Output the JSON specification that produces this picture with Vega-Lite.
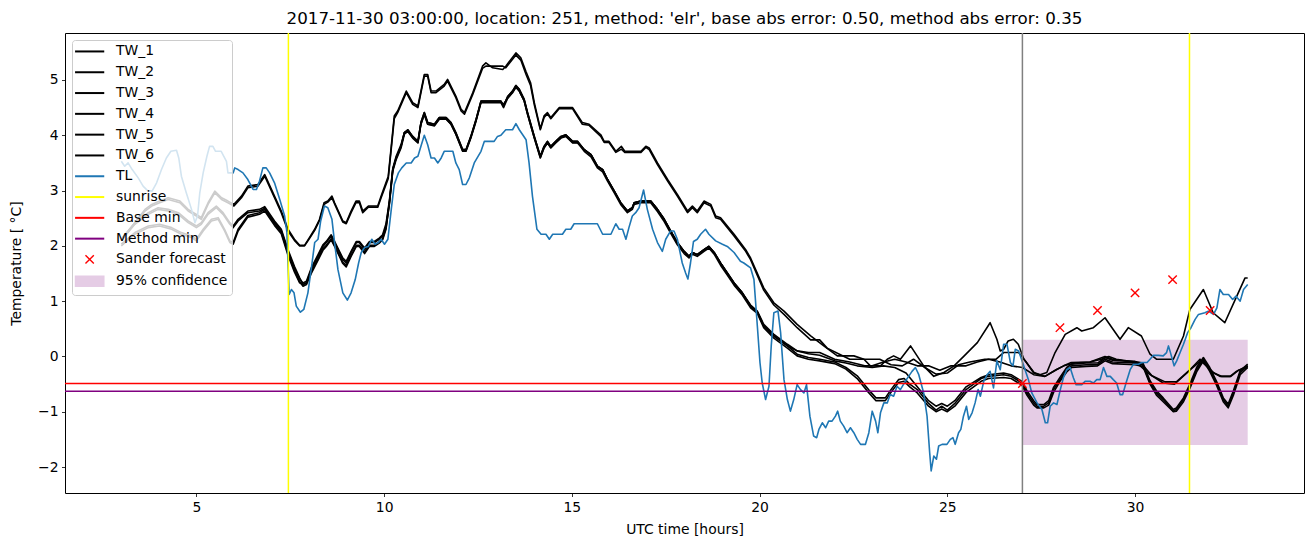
{
"$schema": "https://vega.github.io/schema/vega-lite/v6.json",
"autosize": {"type": "none"},
"padding": {"left": 65, "top": 33, "right": 9, "bottom": 54},
"width": 1239,
"height": 460,
"background": "white",
"title": {"text": "2017-11-30 03:00:00, location: 251, method: 'elr', base abs error: 0.50, method abs error: 0.35", "fontSize": 16.7, "font": "DejaVu Sans", "fontWeight": "normal", "anchor": "middle", "offset": 5, "color": "black"},
"config": {
 "font": "DejaVu Sans",
 "view": {"stroke": "black", "strokeWidth": 1},
 "axis": {"domain": false, "grid": false, "ticks": true, "tickColor": "black", "tickSize": 3.5, "tickWidth": 0.8, "labelColor": "black", "labelFontSize": 13.9, "labelFont": "DejaVu Sans", "titleFont": "DejaVu Sans", "titleFontSize": 13.9, "titleFontWeight": "normal", "titleColor": "black", "labelPadding": 3.5}
},
"datasets": {
"lines": [
{"s":"TW_1","t":3.0,"v":2.12},{"s":"TW_1","t":3.36,"v":2.42},{"s":"TW_1","t":3.63,"v":2.66},{"s":"TW_1","t":3.81,"v":2.75},{"s":"TW_1","t":4.02,"v":2.81},{"s":"TW_1","t":4.25,"v":2.87},{"s":"TW_1","t":4.56,"v":2.81},{"s":"TW_1","t":4.78,"v":2.66},{"s":"TW_1","t":5.0,"v":2.57},{"s":"TW_1","t":5.13,"v":2.51},{"s":"TW_1","t":5.31,"v":2.78},{"s":"TW_1","t":5.49,"v":2.99},{"s":"TW_1","t":5.67,"v":2.87},{"s":"TW_1","t":5.84,"v":2.81},{"s":"TW_1","t":6.0,"v":2.75},{"s":"TW_1","t":6.2,"v":2.9},{"s":"TW_1","t":6.37,"v":3.08},{"s":"TW_1","t":6.64,"v":3.11},{"s":"TW_1","t":6.82,"v":3.29},{"s":"TW_1","t":7.08,"v":2.9},{"s":"TW_1","t":7.26,"v":2.63},{"s":"TW_1","t":7.44,"v":2.3},{"s":"TW_1","t":7.61,"v":2.12},{"s":"TW_1","t":7.75,"v":2.01},{"s":"TW_1","t":7.88,"v":2.01},{"s":"TW_1","t":8.01,"v":2.15},{"s":"TW_1","t":8.15,"v":2.3},{"s":"TW_1","t":8.28,"v":2.48},{"s":"TW_1","t":8.4,"v":2.78},{"s":"TW_1","t":8.5,"v":2.81},{"s":"TW_1","t":8.61,"v":2.9},{"s":"TW_1","t":8.68,"v":2.78},{"s":"TW_1","t":8.9,"v":2.45},{"s":"TW_1","t":8.99,"v":2.42},{"s":"TW_1","t":9.12,"v":2.63},{"s":"TW_1","t":9.25,"v":2.81},{"s":"TW_1","t":9.34,"v":2.81},{"s":"TW_1","t":9.43,"v":2.63},{"s":"TW_1","t":9.58,"v":2.72},{"s":"TW_1","t":9.83,"v":2.72},{"s":"TW_1","t":9.92,"v":2.9},{"s":"TW_1","t":10.11,"v":3.26},{"s":"TW_1","t":10.19,"v":3.8},{"s":"TW_1","t":10.27,"v":4.35},{"s":"TW_1","t":10.36,"v":4.44},{"s":"TW_1","t":10.59,"v":4.8},{"s":"TW_1","t":10.76,"v":4.59},{"s":"TW_1","t":10.9,"v":4.53},{"s":"TW_1","t":11.07,"v":5.1},{"s":"TW_1","t":11.16,"v":5.1},{"s":"TW_1","t":11.25,"v":4.8},{"s":"TW_1","t":11.38,"v":4.8},{"s":"TW_1","t":11.6,"v":4.92},{"s":"TW_1","t":11.69,"v":5.01},{"s":"TW_1","t":11.91,"v":4.71},{"s":"TW_1","t":12.05,"v":4.47},{"s":"TW_1","t":12.14,"v":4.41},{"s":"TW_1","t":12.36,"v":4.77},{"s":"TW_1","t":12.62,"v":5.25},{"s":"TW_1","t":12.71,"v":5.31},{"s":"TW_1","t":12.89,"v":5.22},{"s":"TW_1","t":13.16,"v":5.19},{"s":"TW_1","t":13.24,"v":5.25},{"s":"TW_1","t":13.51,"v":5.49},{"s":"TW_1","t":13.64,"v":5.4},{"s":"TW_1","t":13.78,"v":5.15},{"s":"TW_1","t":13.9,"v":4.95},{"s":"TW_1","t":14.0,"v":4.59},{"s":"TW_1","t":14.16,"v":4.12},{"s":"TW_1","t":14.26,"v":4.35},{"s":"TW_1","t":14.35,"v":4.41},{"s":"TW_1","t":14.44,"v":4.32},{"s":"TW_1","t":14.66,"v":4.5},{"s":"TW_1","t":15.02,"v":4.5},{"s":"TW_1","t":15.28,"v":4.23},{"s":"TW_1","t":15.46,"v":4.2},{"s":"TW_1","t":15.77,"v":4.01},{"s":"TW_1","t":15.86,"v":3.89},{"s":"TW_1","t":15.99,"v":3.89},{"s":"TW_1","t":16.17,"v":3.71},{"s":"TW_1","t":16.32,"v":3.8},{"s":"TW_1","t":16.41,"v":3.71},{"s":"TW_1","t":16.84,"v":3.71},{"s":"TW_1","t":16.97,"v":3.8},{"s":"TW_1","t":17.06,"v":3.77},{"s":"TW_1","t":17.28,"v":3.5},{"s":"TW_1","t":17.55,"v":3.2},{"s":"TW_1","t":17.81,"v":2.93},{"s":"TW_1","t":18.08,"v":2.63},{"s":"TW_1","t":18.21,"v":2.72},{"s":"TW_1","t":18.34,"v":2.63},{"s":"TW_1","t":18.52,"v":2.81},{"s":"TW_1","t":18.7,"v":2.75},{"s":"TW_1","t":18.83,"v":2.54},{"s":"TW_1","t":18.96,"v":2.51},{"s":"TW_1","t":19.32,"v":2.21},{"s":"TW_1","t":19.63,"v":1.93},{"s":"TW_1","t":19.76,"v":1.78},
{"s":"TW_1","t":20.11,"v":1.24},{"s":"TW_1","t":20.38,"v":0.97},{"s":"TW_1","t":20.65,"v":0.82},{"s":"TW_1","t":21.0,"v":0.58},{"s":"TW_1","t":21.36,"v":0.37},{"s":"TW_1","t":21.71,"v":0.19},{"s":"TW_1","t":22.07,"v":0.01},{"s":"TW_1","t":22.51,"v":0.01},{"s":"TW_1","t":22.78,"v":-0.05},{"s":"TW_1","t":22.95,"v":-0.17},{"s":"TW_1","t":23.22,"v":-0.17},{"s":"TW_1","t":23.4,"v":-0.05},{"s":"TW_1","t":23.57,"v":0.01},{"s":"TW_1","t":23.75,"v":-0.05},{"s":"TW_1","t":24.02,"v":0.19},{"s":"TW_1","t":24.37,"v":-0.17},{"s":"TW_1","t":24.64,"v":-0.36},{"s":"TW_1","t":24.91,"v":-0.29},{"s":"TW_1","t":25.18,"v":-0.17},{"s":"TW_1","t":25.45,"v":0.01},{"s":"TW_1","t":25.8,"v":0.25},{"s":"TW_1","t":26.14,"v":0.61},{"s":"TW_1","t":26.32,"v":0.31},{"s":"TW_1","t":26.41,"v":0.1},{"s":"TW_1","t":26.5,"v":0.13},{"s":"TW_1","t":26.62,"v":0.28},{"s":"TW_1","t":26.76,"v":0.31},{"s":"TW_1","t":26.89,"v":0.22},{"s":"TW_1","t":27.04,"v":-0.05},{"s":"TW_1","t":27.31,"v":-0.29},{"s":"TW_1","t":27.47,"v":-0.33},{"s":"TW_1","t":27.65,"v":-0.29},{"s":"TW_1","t":27.87,"v":0.07},{"s":"TW_1","t":28.14,"v":0.4},{"s":"TW_1","t":28.45,"v":0.52},{"s":"TW_1","t":28.58,"v":0.46},{"s":"TW_1","t":28.89,"v":0.52},{"s":"TW_1","t":29.2,"v":0.7},{"s":"TW_1","t":29.6,"v":0.31},{"s":"TW_1","t":29.82,"v":0.52},{"s":"TW_1","t":30.17,"v":0.37},{"s":"TW_1","t":30.4,"v":0.04},{"s":"TW_1","t":30.57,"v":-0.05},{"s":"TW_1","t":31.02,"v":-0.05},{"s":"TW_1","t":31.29,"v":0.37},{"s":"TW_1","t":31.46,"v":0.85},{"s":"TW_1","t":31.82,"v":1.21},{"s":"TW_1","t":32.08,"v":0.79},{"s":"TW_1","t":32.39,"v":0.61},{"s":"TW_1","t":32.71,"v":1.09},{"s":"TW_1","t":32.93,"v":1.42},{"s":"TW_1","t":33.0,"v":1.42},
{"s":"TW_2","t":3.0,"v":2.1},{"s":"TW_2","t":3.36,"v":2.4},{"s":"TW_2","t":3.63,"v":2.63},{"s":"TW_2","t":3.81,"v":2.72},{"s":"TW_2","t":4.02,"v":2.78},{"s":"TW_2","t":4.25,"v":2.84},{"s":"TW_2","t":4.56,"v":2.78},{"s":"TW_2","t":4.78,"v":2.63},{"s":"TW_2","t":5.0,"v":2.54},{"s":"TW_2","t":5.13,"v":2.48},{"s":"TW_2","t":5.31,"v":2.75},{"s":"TW_2","t":5.49,"v":2.96},{"s":"TW_2","t":5.67,"v":2.84},{"s":"TW_2","t":5.84,"v":2.78},{"s":"TW_2","t":6.0,"v":2.72},{"s":"TW_2","t":6.2,"v":2.87},{"s":"TW_2","t":6.37,"v":3.05},{"s":"TW_2","t":6.64,"v":3.08},{"s":"TW_2","t":6.82,"v":3.26},{"s":"TW_2","t":7.08,"v":2.87},{"s":"TW_2","t":7.26,"v":2.6},{"s":"TW_2","t":7.44,"v":2.27},{"s":"TW_2","t":7.61,"v":2.1},{"s":"TW_2","t":7.75,"v":2.0},{"s":"TW_2","t":7.88,"v":2.0},{"s":"TW_2","t":8.01,"v":2.13},{"s":"TW_2","t":8.15,"v":2.28},{"s":"TW_2","t":8.28,"v":2.46},{"s":"TW_2","t":8.4,"v":2.75},{"s":"TW_2","t":8.5,"v":2.79},{"s":"TW_2","t":8.61,"v":2.87},{"s":"TW_2","t":8.68,"v":2.76},{"s":"TW_2","t":8.9,"v":2.43},{"s":"TW_2","t":8.99,"v":2.4},{"s":"TW_2","t":9.12,"v":2.6},{"s":"TW_2","t":9.25,"v":2.78},{"s":"TW_2","t":9.34,"v":2.78},{"s":"TW_2","t":9.43,"v":2.6},{"s":"TW_2","t":9.58,"v":2.7},{"s":"TW_2","t":9.83,"v":2.7},{"s":"TW_2","t":9.92,"v":2.87},{"s":"TW_2","t":10.11,"v":3.22},{"s":"TW_2","t":10.19,"v":3.76},{"s":"TW_2","t":10.27,"v":4.3},{"s":"TW_2","t":10.36,"v":4.41},{"s":"TW_2","t":10.59,"v":4.77},{"s":"TW_2","t":10.76,"v":4.56},{"s":"TW_2","t":10.9,"v":4.5},{"s":"TW_2","t":11.07,"v":5.07},{"s":"TW_2","t":11.16,"v":5.07},{"s":"TW_2","t":11.25,"v":4.77},{"s":"TW_2","t":11.38,"v":4.77},{"s":"TW_2","t":11.6,"v":4.89},{"s":"TW_2","t":11.69,"v":4.98},{"s":"TW_2","t":11.91,"v":4.68},{"s":"TW_2","t":12.05,"v":4.44},{"s":"TW_2","t":12.14,"v":4.38},{"s":"TW_2","t":12.36,"v":4.74},{"s":"TW_2","t":12.62,"v":5.21},{"s":"TW_2","t":12.71,"v":5.25},{"s":"TW_2","t":12.89,"v":5.25},{"s":"TW_2","t":13.16,"v":5.25},{"s":"TW_2","t":13.24,"v":5.22},{"s":"TW_2","t":13.51,"v":5.45},{"s":"TW_2","t":13.64,"v":5.36},{"s":"TW_2","t":13.78,"v":5.1},{"s":"TW_2","t":13.9,"v":4.9},{"s":"TW_2","t":14.0,"v":4.55},{"s":"TW_2","t":14.16,"v":4.1},{"s":"TW_2","t":14.26,"v":4.32},{"s":"TW_2","t":14.35,"v":4.39},{"s":"TW_2","t":14.44,"v":4.3},{"s":"TW_2","t":14.66,"v":4.48},{"s":"TW_2","t":15.02,"v":4.48},{"s":"TW_2","t":15.28,"v":4.2},{"s":"TW_2","t":15.46,"v":4.18},{"s":"TW_2","t":15.77,"v":3.98},{"s":"TW_2","t":15.86,"v":3.87},{"s":"TW_2","t":15.99,"v":3.87},{"s":"TW_2","t":16.17,"v":3.69},{"s":"TW_2","t":16.32,"v":3.75},{"s":"TW_2","t":16.41,"v":3.69},{"s":"TW_2","t":16.84,"v":3.69},{"s":"TW_2","t":16.97,"v":3.78},{"s":"TW_2","t":17.06,"v":3.74},{"s":"TW_2","t":17.28,"v":3.47},{"s":"TW_2","t":17.55,"v":3.17},{"s":"TW_2","t":17.81,"v":2.9},{"s":"TW_2","t":18.08,"v":2.6},{"s":"TW_2","t":18.21,"v":2.69},{"s":"TW_2","t":18.34,"v":2.6},{"s":"TW_2","t":18.52,"v":2.78},{"s":"TW_2","t":18.7,"v":2.72},{"s":"TW_2","t":18.83,"v":2.51},{"s":"TW_2","t":18.96,"v":2.48},{"s":"TW_2","t":19.32,"v":2.18},{"s":"TW_2","t":19.63,"v":1.9},
{"s":"TW_2","t":19.76,"v":1.75},{"s":"TW_2","t":20.11,"v":1.2},{"s":"TW_2","t":20.38,"v":0.93},{"s":"TW_2","t":20.65,"v":0.76},{"s":"TW_2","t":21.0,"v":0.52},{"s":"TW_2","t":21.36,"v":0.3},{"s":"TW_2","t":21.6,"v":0.3},{"s":"TW_2","t":21.8,"v":0.15},{"s":"TW_2","t":22.1,"v":0.05},{"s":"TW_2","t":22.4,"v":-0.05},{"s":"TW_2","t":23.2,"v":-0.05},{"s":"TW_2","t":23.5,"v":-0.15},{"s":"TW_2","t":23.8,"v":-0.17},{"s":"TW_2","t":24.1,"v":-0.05},{"s":"TW_2","t":24.4,"v":-0.2},{"s":"TW_2","t":24.7,"v":-0.32},{"s":"TW_2","t":25.0,"v":-0.3},{"s":"TW_2","t":25.3,"v":-0.15},{"s":"TW_2","t":25.6,"v":-0.1},{"s":"TW_2","t":26.0,"v":-0.05},{"s":"TW_2","t":26.3,"v":-0.05},{"s":"TW_2","t":26.5,"v":0.07},{"s":"TW_2","t":26.9,"v":0.07},{"s":"TW_2","t":27.1,"v":-0.1},{"s":"TW_2","t":27.3,"v":-0.3},{"s":"TW_2","t":27.6,"v":-0.36},{"s":"TW_2","t":27.9,"v":-0.24},{"s":"TW_2","t":28.1,"v":-0.17},{"s":"TW_2","t":28.4,"v":-0.12},{"s":"TW_2","t":28.8,"v":-0.1},{"s":"TW_2","t":29.0,"v":-0.05},{"s":"TW_2","t":29.2,"v":0.0},{"s":"TW_2","t":29.4,"v":-0.05},{"s":"TW_2","t":29.9,"v":-0.1},{"s":"TW_2","t":30.1,"v":-0.15},{"s":"TW_2","t":30.4,"v":-0.33},{"s":"TW_2","t":30.75,"v":-0.48},{"s":"TW_2","t":31.05,"v":-0.5},{"s":"TW_2","t":31.38,"v":-0.3},{"s":"TW_2","t":31.73,"v":-0.05},{"s":"TW_2","t":31.9,"v":-0.17},{"s":"TW_2","t":32.08,"v":-0.29},{"s":"TW_2","t":32.26,"v":-0.36},{"s":"TW_2","t":32.53,"v":-0.36},{"s":"TW_2","t":32.7,"v":-0.27},{"s":"TW_2","t":33.0,"v":-0.17},
{"s":"TW_3","t":3.0,"v":2.12},{"s":"TW_3","t":3.36,"v":2.42},{"s":"TW_3","t":3.72,"v":2.6},{"s":"TW_3","t":3.98,"v":2.69},{"s":"TW_3","t":4.25,"v":2.66},{"s":"TW_3","t":4.52,"v":2.6},{"s":"TW_3","t":4.78,"v":2.45},{"s":"TW_3","t":5.0,"v":2.36},{"s":"TW_3","t":5.13,"v":2.42},{"s":"TW_3","t":5.31,"v":2.6},{"s":"TW_3","t":5.53,"v":2.72},{"s":"TW_3","t":5.71,"v":2.6},{"s":"TW_3","t":5.89,"v":2.42},{"s":"TW_3","t":5.98,"v":2.36},{"s":"TW_3","t":6.11,"v":2.48},{"s":"TW_3","t":6.37,"v":2.63},{"s":"TW_3","t":6.68,"v":2.66},{"s":"TW_3","t":6.82,"v":2.71},{"s":"TW_3","t":7.08,"v":2.45},
{"s":"TW_3","t":7.26,"v":2.3},{"s":"TW_3","t":7.44,"v":1.93},{"s":"TW_3","t":7.61,"v":1.63},{"s":"TW_3","t":7.75,"v":1.42},{"s":"TW_3","t":7.84,"v":1.3},{"s":"TW_3","t":7.93,"v":1.33},{"s":"TW_3","t":8.06,"v":1.57},{"s":"TW_3","t":8.24,"v":1.81},{"s":"TW_3","t":8.37,"v":1.99},{"s":"TW_3","t":8.46,"v":2.06},{"s":"TW_3","t":8.59,"v":2.18},{"s":"TW_3","t":8.68,"v":2.06},{"s":"TW_3","t":8.81,"v":1.88},{"s":"TW_3","t":8.9,"v":1.75},{"s":"TW_3","t":8.99,"v":1.69},{"s":"TW_3","t":9.12,"v":1.88},{"s":"TW_3","t":9.26,"v":2.06},{"s":"TW_3","t":9.34,"v":2.06},{"s":"TW_3","t":9.48,"v":1.93},{"s":"TW_3","t":9.61,"v":2.06},{"s":"TW_3","t":9.74,"v":2.06},{"s":"TW_3","t":9.87,"v":2.12},{"s":"TW_3","t":9.96,"v":2.18},{"s":"TW_3","t":10.05,"v":2.36},{"s":"TW_3","t":10.14,"v":2.78},{"s":"TW_3","t":10.23,"v":3.38},{"s":"TW_3","t":10.32,"v":3.59},{"s":"TW_3","t":10.45,"v":3.8},{"s":"TW_3","t":10.54,"v":4.05},{"s":"TW_3","t":10.63,"v":4.1},{"s":"TW_3","t":10.76,"v":3.98},{"s":"TW_3","t":10.9,"v":3.89},{"s":"TW_3","t":10.98,"v":4.23},{"s":"TW_3","t":11.07,"v":4.41},{"s":"TW_3","t":11.16,"v":4.23},{"s":"TW_3","t":11.34,"v":4.2},{"s":"TW_3","t":11.47,"v":4.32},{"s":"TW_3","t":11.65,"v":4.32},{"s":"TW_3","t":11.78,"v":4.23},{"s":"TW_3","t":11.91,"v":4.05},{"s":"TW_3","t":12.09,"v":3.74},{"s":"TW_3","t":12.18,"v":3.74},{"s":"TW_3","t":12.31,"v":3.98},{"s":"TW_3","t":12.45,"v":4.29},{"s":"TW_3","t":12.58,"v":4.62},{"s":"TW_3","t":13.11,"v":4.62},{"s":"TW_3","t":13.18,"v":4.53},{"s":"TW_3","t":13.29,"v":4.7},{"s":"TW_3","t":13.42,"v":4.8},{"s":"TW_3","t":13.51,"v":4.9},{"s":"TW_3","t":13.6,"v":4.83},{"s":"TW_3","t":13.73,"v":4.65},{"s":"TW_3","t":13.82,"v":4.41},{"s":"TW_3","t":14.0,"v":3.98},{"s":"TW_3","t":14.16,"v":3.62},{"s":"TW_3","t":14.26,"v":3.8},{"s":"TW_3","t":14.35,"v":3.89},{"s":"TW_3","t":14.44,"v":3.8},{"s":"TW_3","t":14.57,"v":3.89},{"s":"TW_3","t":14.71,"v":3.98},{"s":"TW_3","t":14.84,"v":4.01},{"s":"TW_3","t":15.02,"v":3.89},{"s":"TW_3","t":15.15,"v":3.89},{"s":"TW_3","t":15.33,"v":3.74},{"s":"TW_3","t":15.51,"v":3.65},{"s":"TW_3","t":15.68,"v":3.44},{"s":"TW_3","t":15.82,"v":3.38},{"s":"TW_3","t":15.95,"v":3.2},{"s":"TW_3","t":16.13,"v":2.99},{"s":"TW_3","t":16.3,"v":2.78},{"s":"TW_3","t":16.48,"v":2.63},{"s":"TW_3","t":16.61,"v":2.69},{"s":"TW_3","t":16.66,"v":2.78},{"s":"TW_3","t":16.84,"v":2.81},{"s":"TW_3","t":17.1,"v":2.81},{"s":"TW_3","t":17.28,"v":2.66},{"s":"TW_3","t":17.46,"v":2.48},{"s":"TW_3","t":17.63,"v":2.27},{"s":"TW_3","t":17.81,"v":2.06},{"s":"TW_3","t":17.99,"v":1.9},{"s":"TW_3","t":18.12,"v":1.81},{"s":"TW_3","t":18.21,"v":1.88},{"s":"TW_3","t":18.34,"v":1.84},{"s":"TW_3","t":18.52,"v":1.93},{"s":"TW_3","t":18.65,"v":1.99},{"s":"TW_3","t":18.79,"v":1.88},{"s":"TW_3","t":18.96,"v":1.69},{"s":"TW_3","t":19.14,"v":1.51},{"s":"TW_3","t":19.32,"v":1.33},{"s":"TW_3","t":19.54,"v":1.15},{"s":"TW_3","t":19.76,"v":0.91},
{"s":"TW_3","t":19.94,"v":0.8},{"s":"TW_3","t":20.11,"v":0.55},{"s":"TW_3","t":20.38,"v":0.37},{"s":"TW_3","t":20.74,"v":0.19},{"s":"TW_3","t":21.0,"v":0.04},{"s":"TW_3","t":21.3,"v":-0.02},{"s":"TW_3","t":21.6,"v":-0.05},{"s":"TW_3","t":22.0,"v":-0.1},{"s":"TW_3","t":22.3,"v":-0.2},{"s":"TW_3","t":22.6,"v":-0.35},{"s":"TW_3","t":22.9,"v":-0.6},{"s":"TW_3","t":23.1,"v":-0.75},{"s":"TW_3","t":23.35,"v":-0.75},{"s":"TW_3","t":23.5,"v":-0.6},{"s":"TW_3","t":23.7,"v":-0.42},{"s":"TW_3","t":23.85,"v":-0.4},{"s":"TW_3","t":24.0,"v":-0.5},{"s":"TW_3","t":24.2,"v":-0.6},{"s":"TW_3","t":24.5,"v":-0.85},{"s":"TW_3","t":24.7,"v":-0.97},{"s":"TW_3","t":24.85,"v":-0.9},{"s":"TW_3","t":25.0,"v":-0.97},{"s":"TW_3","t":25.2,"v":-0.85},{"s":"TW_3","t":25.5,"v":-0.6},{"s":"TW_3","t":25.9,"v":-0.4},{"s":"TW_3","t":26.1,"v":-0.36},{"s":"TW_3","t":26.5,"v":-0.33},{"s":"TW_3","t":26.7,"v":-0.36},{"s":"TW_3","t":26.99,"v":-0.48},{"s":"TW_3","t":27.12,"v":-0.66},{"s":"TW_3","t":27.3,"v":-0.84},{"s":"TW_3","t":27.39,"v":-0.9},{"s":"TW_3","t":27.57,"v":-0.9},{"s":"TW_3","t":27.7,"v":-0.84},{"s":"TW_3","t":27.83,"v":-0.6},{"s":"TW_3","t":28.0,"v":-0.42},{"s":"TW_3","t":28.18,"v":-0.24},{"s":"TW_3","t":28.31,"v":-0.17},{"s":"TW_3","t":28.7,"v":-0.15},{"s":"TW_3","t":29.0,"v":-0.15},{"s":"TW_3","t":29.2,"v":-0.05},{"s":"TW_3","t":29.4,"v":-0.1},{"s":"TW_3","t":30.0,"v":-0.12},{"s":"TW_3","t":30.21,"v":-0.15},{"s":"TW_3","t":30.4,"v":-0.48},{"s":"TW_3","t":30.57,"v":-0.66},{"s":"TW_3","t":30.75,"v":-0.78},{"s":"TW_3","t":31.02,"v":-0.99},{"s":"TW_3","t":31.1,"v":-0.96},{"s":"TW_3","t":31.29,"v":-0.78},{"s":"TW_3","t":31.46,"v":-0.54},{"s":"TW_3","t":31.64,"v":-0.24},{"s":"TW_3","t":31.82,"v":-0.05},{"s":"TW_3","t":31.99,"v":-0.24},{"s":"TW_3","t":32.17,"v":-0.48},{"s":"TW_3","t":32.35,"v":-0.78},{"s":"TW_3","t":32.48,"v":-0.9},{"s":"TW_3","t":32.62,"v":-0.66},{"s":"TW_3","t":32.8,"v":-0.29},{"s":"TW_3","t":33.0,"v":-0.17},
{"s":"TW_4","t":3.0,"v":2.1},{"s":"TW_4","t":3.36,"v":2.39},{"s":"TW_4","t":3.72,"v":2.57},{"s":"TW_4","t":3.98,"v":2.66},{"s":"TW_4","t":4.25,"v":2.63},{"s":"TW_4","t":4.52,"v":2.57},{"s":"TW_4","t":4.78,"v":2.42},{"s":"TW_4","t":5.0,"v":2.33},{"s":"TW_4","t":5.13,"v":2.39},{"s":"TW_4","t":5.31,"v":2.57},{"s":"TW_4","t":5.53,"v":2.69},{"s":"TW_4","t":5.71,"v":2.57},{"s":"TW_4","t":5.89,"v":2.39},{"s":"TW_4","t":5.98,"v":2.33},{"s":"TW_4","t":6.11,"v":2.45},{"s":"TW_4","t":6.37,"v":2.6},{"s":"TW_4","t":6.68,"v":2.63},{"s":"TW_4","t":6.82,"v":2.68},{"s":"TW_4","t":7.08,"v":2.42},
{"s":"TW_4","t":7.26,"v":2.28},{"s":"TW_4","t":7.44,"v":1.9},{"s":"TW_4","t":7.61,"v":1.6},{"s":"TW_4","t":7.75,"v":1.4},{"s":"TW_4","t":7.84,"v":1.33},{"s":"TW_4","t":7.93,"v":1.36},{"s":"TW_4","t":8.06,"v":1.6},{"s":"TW_4","t":8.24,"v":1.84},{"s":"TW_4","t":8.37,"v":2.02},{"s":"TW_4","t":8.46,"v":2.08},{"s":"TW_4","t":8.59,"v":2.2},{"s":"TW_4","t":8.68,"v":2.08},{"s":"TW_4","t":8.81,"v":1.9},{"s":"TW_4","t":8.9,"v":1.78},{"s":"TW_4","t":8.99,"v":1.72},{"s":"TW_4","t":9.12,"v":1.9},{"s":"TW_4","t":9.26,"v":2.08},{"s":"TW_4","t":9.34,"v":2.08},{"s":"TW_4","t":9.48,"v":1.96},{"s":"TW_4","t":9.61,"v":2.08},{"s":"TW_4","t":9.74,"v":2.08},{"s":"TW_4","t":9.87,"v":2.14},{"s":"TW_4","t":9.96,"v":2.2},{"s":"TW_4","t":10.05,"v":2.4},{"s":"TW_4","t":10.14,"v":2.82},{"s":"TW_4","t":10.23,"v":3.4},{"s":"TW_4","t":10.32,"v":3.62},{"s":"TW_4","t":10.45,"v":3.83},{"s":"TW_4","t":10.54,"v":4.05},{"s":"TW_4","t":10.63,"v":4.08},{"s":"TW_4","t":10.76,"v":3.96},{"s":"TW_4","t":10.9,"v":3.87},{"s":"TW_4","t":10.98,"v":4.2},{"s":"TW_4","t":11.07,"v":4.38},{"s":"TW_4","t":11.16,"v":4.2},{"s":"TW_4","t":11.34,"v":4.18},{"s":"TW_4","t":11.47,"v":4.3},{"s":"TW_4","t":11.65,"v":4.3},{"s":"TW_4","t":11.78,"v":4.2},{"s":"TW_4","t":11.91,"v":4.02},{"s":"TW_4","t":12.09,"v":3.72},{"s":"TW_4","t":12.18,"v":3.72},{"s":"TW_4","t":12.31,"v":3.96},{"s":"TW_4","t":12.45,"v":4.27},{"s":"TW_4","t":12.58,"v":4.6},{"s":"TW_4","t":13.11,"v":4.6},{"s":"TW_4","t":13.18,"v":4.56},{"s":"TW_4","t":13.29,"v":4.67},{"s":"TW_4","t":13.42,"v":4.78},{"s":"TW_4","t":13.51,"v":4.87},{"s":"TW_4","t":13.6,"v":4.8},{"s":"TW_4","t":13.73,"v":4.62},{"s":"TW_4","t":13.82,"v":4.38},{"s":"TW_4","t":14.0,"v":3.95},{"s":"TW_4","t":14.16,"v":3.6},{"s":"TW_4","t":14.26,"v":3.78},{"s":"TW_4","t":14.35,"v":3.87},{"s":"TW_4","t":14.44,"v":3.78},{"s":"TW_4","t":14.57,"v":3.87},{"s":"TW_4","t":14.71,"v":3.96},{"s":"TW_4","t":14.84,"v":3.99},{"s":"TW_4","t":15.02,"v":3.87},{"s":"TW_4","t":15.15,"v":3.87},{"s":"TW_4","t":15.33,"v":3.71},{"s":"TW_4","t":15.51,"v":3.61},{"s":"TW_4","t":15.68,"v":3.41},{"s":"TW_4","t":15.82,"v":3.34},{"s":"TW_4","t":15.95,"v":3.17},{"s":"TW_4","t":16.13,"v":2.96},{"s":"TW_4","t":16.3,"v":2.75},{"s":"TW_4","t":16.48,"v":2.6},{"s":"TW_4","t":16.61,"v":2.66},{"s":"TW_4","t":16.66,"v":2.75},{"s":"TW_4","t":16.84,"v":2.78},{"s":"TW_4","t":17.1,"v":2.78},{"s":"TW_4","t":17.28,"v":2.62},{"s":"TW_4","t":17.46,"v":2.44},{"s":"TW_4","t":17.63,"v":2.23},{"s":"TW_4","t":17.81,"v":2.02},{"s":"TW_4","t":17.99,"v":1.86},{"s":"TW_4","t":18.12,"v":1.78},{"s":"TW_4","t":18.21,"v":1.85},{"s":"TW_4","t":18.34,"v":1.81},{"s":"TW_4","t":18.52,"v":1.9},{"s":"TW_4","t":18.65,"v":1.96},{"s":"TW_4","t":18.79,"v":1.85},{"s":"TW_4","t":18.96,"v":1.65},{"s":"TW_4","t":19.14,"v":1.47},{"s":"TW_4","t":19.32,"v":1.29},{"s":"TW_4","t":19.54,"v":1.11},{"s":"TW_4","t":19.76,"v":0.88},
{"s":"TW_4","t":19.94,"v":0.78},{"s":"TW_4","t":20.11,"v":0.52},{"s":"TW_4","t":20.38,"v":0.33},{"s":"TW_4","t":20.74,"v":0.15},{"s":"TW_4","t":21.0,"v":0.01},{"s":"TW_4","t":21.3,"v":-0.05},{"s":"TW_4","t":21.6,"v":-0.08},{"s":"TW_4","t":22.0,"v":-0.13},{"s":"TW_4","t":22.3,"v":-0.23},{"s":"TW_4","t":22.6,"v":-0.4},{"s":"TW_4","t":22.9,"v":-0.65},{"s":"TW_4","t":23.1,"v":-0.8},{"s":"TW_4","t":23.35,"v":-0.8},{"s":"TW_4","t":23.5,"v":-0.65},{"s":"TW_4","t":23.7,"v":-0.47},{"s":"TW_4","t":23.85,"v":-0.45},{"s":"TW_4","t":24.0,"v":-0.55},{"s":"TW_4","t":24.2,"v":-0.66},{"s":"TW_4","t":24.5,"v":-0.9},{"s":"TW_4","t":24.7,"v":-1.0},{"s":"TW_4","t":24.85,"v":-0.95},{"s":"TW_4","t":25.0,"v":-1.0},{"s":"TW_4","t":25.2,"v":-0.9},{"s":"TW_4","t":25.5,"v":-0.65},{"s":"TW_4","t":25.9,"v":-0.45},{"s":"TW_4","t":26.1,"v":-0.4},{"s":"TW_4","t":26.5,"v":-0.38},{"s":"TW_4","t":26.7,"v":-0.4},{"s":"TW_4","t":26.99,"v":-0.52},{"s":"TW_4","t":27.12,"v":-0.7},{"s":"TW_4","t":27.3,"v":-0.88},{"s":"TW_4","t":27.39,"v":-0.93},{"s":"TW_4","t":27.57,"v":-0.93},{"s":"TW_4","t":27.7,"v":-0.88},{"s":"TW_4","t":27.83,"v":-0.65},{"s":"TW_4","t":28.0,"v":-0.45},{"s":"TW_4","t":28.18,"v":-0.28},{"s":"TW_4","t":28.31,"v":-0.2},{"s":"TW_4","t":28.7,"v":-0.18},{"s":"TW_4","t":29.0,"v":-0.17},{"s":"TW_4","t":29.2,"v":-0.08},{"s":"TW_4","t":29.4,"v":-0.13},{"s":"TW_4","t":30.0,"v":-0.15},{"s":"TW_4","t":30.21,"v":-0.18},{"s":"TW_4","t":30.4,"v":-0.5},{"s":"TW_4","t":30.57,"v":-0.7},{"s":"TW_4","t":30.75,"v":-0.82},{"s":"TW_4","t":31.02,"v":-1.0},{"s":"TW_4","t":31.1,"v":-0.99},{"s":"TW_4","t":31.29,"v":-0.82},{"s":"TW_4","t":31.46,"v":-0.58},{"s":"TW_4","t":31.64,"v":-0.28},{"s":"TW_4","t":31.82,"v":-0.08},{"s":"TW_4","t":31.99,"v":-0.27},{"s":"TW_4","t":32.17,"v":-0.52},{"s":"TW_4","t":32.35,"v":-0.82},{"s":"TW_4","t":32.48,"v":-0.93},{"s":"TW_4","t":32.62,"v":-0.7},{"s":"TW_4","t":32.8,"v":-0.33},{"s":"TW_4","t":33.0,"v":-0.2},
{"s":"TW_5","t":3.0,"v":2.03},{"s":"TW_5","t":3.36,"v":2.24},{"s":"TW_5","t":3.72,"v":2.36},{"s":"TW_5","t":4.02,"v":2.39},{"s":"TW_5","t":4.34,"v":2.33},{"s":"TW_5","t":4.6,"v":2.24},{"s":"TW_5","t":4.87,"v":2.18},{"s":"TW_5","t":5.0,"v":2.12},{"s":"TW_5","t":5.18,"v":2.3},{"s":"TW_5","t":5.4,"v":2.48},{"s":"TW_5","t":5.58,"v":2.51},{"s":"TW_5","t":5.75,"v":2.3},{"s":"TW_5","t":5.89,"v":2.09},{"s":"TW_5","t":5.98,"v":2.06},{"s":"TW_5","t":6.11,"v":2.3},{"s":"TW_5","t":6.37,"v":2.55},{"s":"TW_5","t":6.68,"v":2.6},{"s":"TW_5","t":6.82,"v":2.66},{"s":"TW_5","t":7.08,"v":2.4},
{"s":"TW_5","t":7.26,"v":2.25},{"s":"TW_5","t":7.44,"v":1.86},{"s":"TW_5","t":7.61,"v":1.56},{"s":"TW_5","t":7.75,"v":1.35},{"s":"TW_5","t":7.84,"v":1.27},{"s":"TW_5","t":7.93,"v":1.3},{"s":"TW_5","t":8.06,"v":1.5},{"s":"TW_5","t":8.24,"v":1.74},{"s":"TW_5","t":8.37,"v":1.92},{"s":"TW_5","t":8.46,"v":1.99},{"s":"TW_5","t":8.59,"v":2.11},{"s":"TW_5","t":8.68,"v":1.99},{"s":"TW_5","t":8.81,"v":1.81},{"s":"TW_5","t":8.9,"v":1.68},{"s":"TW_5","t":8.99,"v":1.62},{"s":"TW_5","t":9.12,"v":1.81},{"s":"TW_5","t":9.26,"v":1.99},{"s":"TW_5","t":9.34,"v":1.99},{"s":"TW_5","t":9.48,"v":1.86},{"s":"TW_5","t":9.61,"v":1.99},{"s":"TW_5","t":9.74,"v":1.99},{"s":"TW_5","t":9.87,"v":2.05},{"s":"TW_5","t":9.96,"v":2.11},{"s":"TW_5","t":10.05,"v":2.3},{"s":"TW_5","t":10.14,"v":2.78},{"s":"TW_5","t":10.23,"v":3.38},{"s":"TW_5","t":10.32,"v":3.59},{"s":"TW_5","t":10.45,"v":3.8},{"s":"TW_5","t":10.54,"v":4.05},{"s":"TW_5","t":10.63,"v":4.1},{"s":"TW_5","t":10.76,"v":3.98},{"s":"TW_5","t":10.9,"v":3.89},{"s":"TW_5","t":10.98,"v":4.23},{"s":"TW_5","t":11.07,"v":4.41},{"s":"TW_5","t":11.16,"v":4.23},{"s":"TW_5","t":11.34,"v":4.2},{"s":"TW_5","t":11.47,"v":4.32},{"s":"TW_5","t":11.65,"v":4.32},{"s":"TW_5","t":11.78,"v":4.23},{"s":"TW_5","t":11.91,"v":4.05},{"s":"TW_5","t":12.09,"v":3.74},{"s":"TW_5","t":12.18,"v":3.74},{"s":"TW_5","t":12.31,"v":3.98},{"s":"TW_5","t":12.45,"v":4.29},{"s":"TW_5","t":12.58,"v":4.62},{"s":"TW_5","t":13.11,"v":4.62},{"s":"TW_5","t":13.18,"v":4.53},{"s":"TW_5","t":13.29,"v":4.7},{"s":"TW_5","t":13.42,"v":4.8},{"s":"TW_5","t":13.51,"v":4.9},{"s":"TW_5","t":13.6,"v":4.83},{"s":"TW_5","t":13.73,"v":4.65},{"s":"TW_5","t":13.82,"v":4.41},{"s":"TW_5","t":14.0,"v":3.98},{"s":"TW_5","t":14.16,"v":3.62},{"s":"TW_5","t":14.26,"v":3.8},{"s":"TW_5","t":14.35,"v":3.89},{"s":"TW_5","t":14.44,"v":3.8},{"s":"TW_5","t":14.57,"v":3.89},{"s":"TW_5","t":14.71,"v":3.98},{"s":"TW_5","t":14.84,"v":4.01},{"s":"TW_5","t":15.02,"v":3.89},{"s":"TW_5","t":15.15,"v":3.89},{"s":"TW_5","t":15.33,"v":3.74},{"s":"TW_5","t":15.51,"v":3.65},{"s":"TW_5","t":15.68,"v":3.44},{"s":"TW_5","t":15.82,"v":3.38},{"s":"TW_5","t":15.95,"v":3.2},{"s":"TW_5","t":16.13,"v":2.99},{"s":"TW_5","t":16.3,"v":2.78},{"s":"TW_5","t":16.48,"v":2.63},{"s":"TW_5","t":16.61,"v":2.69},{"s":"TW_5","t":16.66,"v":2.78},{"s":"TW_5","t":16.84,"v":2.81},{"s":"TW_5","t":17.1,"v":2.81},{"s":"TW_5","t":17.28,"v":2.66},{"s":"TW_5","t":17.46,"v":2.48},{"s":"TW_5","t":17.63,"v":2.27},{"s":"TW_5","t":17.81,"v":2.06},{"s":"TW_5","t":17.99,"v":1.9},{"s":"TW_5","t":18.12,"v":1.81},{"s":"TW_5","t":18.21,"v":1.88},{"s":"TW_5","t":18.34,"v":1.84},{"s":"TW_5","t":18.52,"v":1.93},{"s":"TW_5","t":18.65,"v":1.99},{"s":"TW_5","t":18.79,"v":1.88},{"s":"TW_5","t":18.96,"v":1.69},{"s":"TW_5","t":19.14,"v":1.51},{"s":"TW_5","t":19.32,"v":1.33},{"s":"TW_5","t":19.54,"v":1.15},{"s":"TW_5","t":19.76,"v":0.91},
{"s":"TW_5","t":19.94,"v":0.8},{"s":"TW_5","t":20.11,"v":0.55},{"s":"TW_5","t":20.38,"v":0.37},{"s":"TW_5","t":20.74,"v":0.19},{"s":"TW_5","t":21.0,"v":0.1},{"s":"TW_5","t":21.3,"v":0.07},{"s":"TW_5","t":21.6,"v":0.07},{"s":"TW_5","t":22.0,"v":-0.05},{"s":"TW_5","t":22.4,"v":-0.1},{"s":"TW_5","t":22.8,"v":-0.17},{"s":"TW_5","t":23.0,"v":-0.17},{"s":"TW_5","t":23.3,"v":-0.1},{"s":"TW_5","t":23.6,"v":-0.05},{"s":"TW_5","t":23.9,"v":-0.1},{"s":"TW_5","t":24.2,"v":-0.17},{"s":"TW_5","t":24.5,"v":-0.17},{"s":"TW_5","t":24.8,"v":-0.25},{"s":"TW_5","t":25.1,"v":-0.17},{"s":"TW_5","t":25.5,"v":-0.17},{"s":"TW_5","t":25.8,"v":-0.1},{"s":"TW_5","t":26.1,"v":-0.05},{"s":"TW_5","t":26.4,"v":-0.1},{"s":"TW_5","t":26.7,"v":-0.17},{"s":"TW_5","t":27.0,"v":-0.2},{"s":"TW_5","t":27.3,"v":-0.33},{"s":"TW_5","t":27.6,"v":-0.36},{"s":"TW_5","t":27.9,"v":-0.24},{"s":"TW_5","t":28.1,"v":-0.17},{"s":"TW_5","t":28.3,"v":-0.11},{"s":"TW_5","t":28.8,"v":-0.1},{"s":"TW_5","t":29.1,"v":-0.05},{"s":"TW_5","t":29.3,"v":0.0},{"s":"TW_5","t":29.5,"v":-0.05},{"s":"TW_5","t":30.0,"v":-0.1},{"s":"TW_5","t":30.2,"v":-0.15},{"s":"TW_5","t":30.45,"v":-0.35},{"s":"TW_5","t":30.8,"v":-0.46},{"s":"TW_5","t":31.1,"v":-0.46},{"s":"TW_5","t":31.4,"v":-0.28},{"s":"TW_5","t":31.75,"v":-0.08},{"s":"TW_5","t":31.95,"v":-0.2},{"s":"TW_5","t":32.1,"v":-0.3},{"s":"TW_5","t":32.3,"v":-0.36},{"s":"TW_5","t":32.55,"v":-0.36},{"s":"TW_5","t":32.75,"v":-0.25},{"s":"TW_5","t":33.0,"v":-0.2},
{"s":"TW_6","t":3.0,"v":2.0},{"s":"TW_6","t":3.36,"v":2.21},{"s":"TW_6","t":3.72,"v":2.33},{"s":"TW_6","t":4.02,"v":2.36},{"s":"TW_6","t":4.34,"v":2.3},{"s":"TW_6","t":4.6,"v":2.21},{"s":"TW_6","t":4.87,"v":2.15},{"s":"TW_6","t":5.0,"v":2.09},{"s":"TW_6","t":5.18,"v":2.27},{"s":"TW_6","t":5.4,"v":2.45},{"s":"TW_6","t":5.58,"v":2.48},{"s":"TW_6","t":5.75,"v":2.27},{"s":"TW_6","t":5.89,"v":2.06},{"s":"TW_6","t":5.98,"v":2.03},{"s":"TW_6","t":6.11,"v":2.27},{"s":"TW_6","t":6.37,"v":2.52},{"s":"TW_6","t":6.68,"v":2.57},{"s":"TW_6","t":6.82,"v":2.63},{"s":"TW_6","t":7.08,"v":2.37},
{"s":"TW_6","t":7.26,"v":2.22},{"s":"TW_6","t":7.44,"v":1.83},{"s":"TW_6","t":7.61,"v":1.53},{"s":"TW_6","t":7.75,"v":1.33},{"s":"TW_6","t":7.84,"v":1.3},{"s":"TW_6","t":7.93,"v":1.33},{"s":"TW_6","t":8.06,"v":1.53},{"s":"TW_6","t":8.24,"v":1.77},{"s":"TW_6","t":8.37,"v":1.95},{"s":"TW_6","t":8.46,"v":2.01},{"s":"TW_6","t":8.59,"v":2.13},{"s":"TW_6","t":8.68,"v":2.01},{"s":"TW_6","t":8.81,"v":1.83},{"s":"TW_6","t":8.9,"v":1.7},{"s":"TW_6","t":8.99,"v":1.65},{"s":"TW_6","t":9.12,"v":1.83},{"s":"TW_6","t":9.26,"v":2.01},{"s":"TW_6","t":9.34,"v":2.01},{"s":"TW_6","t":9.48,"v":1.89},{"s":"TW_6","t":9.61,"v":2.01},{"s":"TW_6","t":9.74,"v":2.01},{"s":"TW_6","t":9.87,"v":2.07},{"s":"TW_6","t":9.96,"v":2.13},{"s":"TW_6","t":10.05,"v":2.33},{"s":"TW_6","t":10.14,"v":2.75},{"s":"TW_6","t":10.23,"v":3.35},{"s":"TW_6","t":10.32,"v":3.56},{"s":"TW_6","t":10.45,"v":3.77},{"s":"TW_6","t":10.54,"v":4.02},{"s":"TW_6","t":10.63,"v":4.07},{"s":"TW_6","t":10.76,"v":3.95},{"s":"TW_6","t":10.9,"v":3.86},{"s":"TW_6","t":10.98,"v":4.2},{"s":"TW_6","t":11.07,"v":4.38},{"s":"TW_6","t":11.16,"v":4.2},{"s":"TW_6","t":11.34,"v":4.17},{"s":"TW_6","t":11.47,"v":4.29},{"s":"TW_6","t":11.65,"v":4.29},{"s":"TW_6","t":11.78,"v":4.2},{"s":"TW_6","t":11.91,"v":4.02},{"s":"TW_6","t":12.09,"v":3.71},{"s":"TW_6","t":12.18,"v":3.71},{"s":"TW_6","t":12.31,"v":3.95},{"s":"TW_6","t":12.45,"v":4.26},{"s":"TW_6","t":12.58,"v":4.59},{"s":"TW_6","t":13.11,"v":4.59},{"s":"TW_6","t":13.18,"v":4.5},{"s":"TW_6","t":13.29,"v":4.67},{"s":"TW_6","t":13.42,"v":4.77},{"s":"TW_6","t":13.51,"v":4.87},{"s":"TW_6","t":13.6,"v":4.8},{"s":"TW_6","t":13.73,"v":4.62},{"s":"TW_6","t":13.82,"v":4.38},{"s":"TW_6","t":14.0,"v":3.95},{"s":"TW_6","t":14.16,"v":3.59},{"s":"TW_6","t":14.26,"v":3.77},{"s":"TW_6","t":14.35,"v":3.86},{"s":"TW_6","t":14.44,"v":3.77},{"s":"TW_6","t":14.57,"v":3.86},{"s":"TW_6","t":14.71,"v":3.95},{"s":"TW_6","t":14.84,"v":3.98},{"s":"TW_6","t":15.02,"v":3.86},{"s":"TW_6","t":15.15,"v":3.86},{"s":"TW_6","t":15.33,"v":3.74},{"s":"TW_6","t":15.51,"v":3.65},{"s":"TW_6","t":15.68,"v":3.44},{"s":"TW_6","t":15.82,"v":3.38},{"s":"TW_6","t":15.95,"v":3.2},{"s":"TW_6","t":16.13,"v":2.99},{"s":"TW_6","t":16.3,"v":2.78},{"s":"TW_6","t":16.48,"v":2.63},{"s":"TW_6","t":16.61,"v":2.69},{"s":"TW_6","t":16.66,"v":2.78},{"s":"TW_6","t":16.84,"v":2.81},{"s":"TW_6","t":17.1,"v":2.81},{"s":"TW_6","t":17.28,"v":2.66},{"s":"TW_6","t":17.46,"v":2.48},{"s":"TW_6","t":17.63,"v":2.27},{"s":"TW_6","t":17.81,"v":2.06},{"s":"TW_6","t":17.99,"v":1.9},{"s":"TW_6","t":18.12,"v":1.81},{"s":"TW_6","t":18.21,"v":1.88},{"s":"TW_6","t":18.34,"v":1.84},{"s":"TW_6","t":18.52,"v":1.93},{"s":"TW_6","t":18.65,"v":1.99},{"s":"TW_6","t":18.79,"v":1.88},{"s":"TW_6","t":18.96,"v":1.69},{"s":"TW_6","t":19.14,"v":1.51},{"s":"TW_6","t":19.32,"v":1.33},{"s":"TW_6","t":19.54,"v":1.15},{"s":"TW_6","t":19.76,"v":0.93},
{"s":"TW_6","t":19.94,"v":0.82},{"s":"TW_6","t":20.11,"v":0.58},{"s":"TW_6","t":20.38,"v":0.4},{"s":"TW_6","t":20.74,"v":0.22},{"s":"TW_6","t":21.0,"v":0.1},{"s":"TW_6","t":21.3,"v":0.05},{"s":"TW_6","t":21.6,"v":0.02},{"s":"TW_6","t":22.0,"v":-0.08},{"s":"TW_6","t":22.3,"v":-0.12},{"s":"TW_6","t":22.6,"v":-0.17},{"s":"TW_6","t":23.0,"v":-0.2},{"s":"TW_6","t":23.3,"v":-0.17},{"s":"TW_6","t":23.6,"v":-0.2},{"s":"TW_6","t":23.9,"v":-0.3},{"s":"TW_6","t":24.2,"v":-0.55},{"s":"TW_6","t":24.5,"v":-0.8},{"s":"TW_6","t":24.7,"v":-0.9},{"s":"TW_6","t":24.85,"v":-0.85},{"s":"TW_6","t":25.0,"v":-0.9},{"s":"TW_6","t":25.2,"v":-0.8},{"s":"TW_6","t":25.5,"v":-0.55},{"s":"TW_6","t":25.9,"v":-0.38},{"s":"TW_6","t":26.1,"v":-0.33},{"s":"TW_6","t":26.5,"v":-0.3},{"s":"TW_6","t":26.7,"v":-0.33},{"s":"TW_6","t":26.99,"v":-0.45},{"s":"TW_6","t":27.12,"v":-0.62},{"s":"TW_6","t":27.3,"v":-0.8},{"s":"TW_6","t":27.39,"v":-0.87},{"s":"TW_6","t":27.57,"v":-0.87},{"s":"TW_6","t":27.7,"v":-0.8},{"s":"TW_6","t":27.83,"v":-0.56},{"s":"TW_6","t":28.0,"v":-0.38},{"s":"TW_6","t":28.18,"v":-0.2},{"s":"TW_6","t":28.31,"v":-0.14},{"s":"TW_6","t":28.7,"v":-0.12},{"s":"TW_6","t":29.0,"v":-0.12},{"s":"TW_6","t":29.2,"v":-0.02},{"s":"TW_6","t":29.4,"v":-0.07},{"s":"TW_6","t":30.0,"v":-0.09},{"s":"TW_6","t":30.21,"v":-0.12},{"s":"TW_6","t":30.4,"v":-0.44},{"s":"TW_6","t":30.57,"v":-0.62},{"s":"TW_6","t":30.75,"v":-0.75},{"s":"TW_6","t":31.02,"v":-0.96},{"s":"TW_6","t":31.1,"v":-0.93},{"s":"TW_6","t":31.29,"v":-0.75},{"s":"TW_6","t":31.46,"v":-0.5},{"s":"TW_6","t":31.64,"v":-0.2},{"s":"TW_6","t":31.82,"v":-0.02},{"s":"TW_6","t":31.99,"v":-0.2},{"s":"TW_6","t":32.17,"v":-0.45},{"s":"TW_6","t":32.35,"v":-0.75},{"s":"TW_6","t":32.48,"v":-0.86},{"s":"TW_6","t":32.62,"v":-0.62},{"s":"TW_6","t":32.8,"v":-0.26},{"s":"TW_6","t":33.0,"v":-0.14},
{"s":"TL","t":3.0,"v":3.53},{"s":"TL","t":3.09,"v":3.44},{"s":"TL","t":3.18,"v":3.5},{"s":"TL","t":3.29,"v":3.38},{"s":"TL","t":3.45,"v":3.23},{"s":"TL","t":3.58,"v":3.08},{"s":"TL","t":3.7,"v":3.0},{"s":"TL","t":3.82,"v":2.99},{"s":"TL","t":3.94,"v":3.14},{"s":"TL","t":4.07,"v":3.38},{"s":"TL","t":4.2,"v":3.59},{"s":"TL","t":4.32,"v":3.71},{"s":"TL","t":4.47,"v":3.73},{"s":"TL","t":4.53,"v":3.59},{"s":"TL","t":4.6,"v":3.26},{"s":"TL","t":4.73,"v":2.96},{"s":"TL","t":4.87,"v":2.66},{"s":"TL","t":4.96,"v":2.42},{"s":"TL","t":5.03,"v":2.54},{"s":"TL","t":5.09,"v":2.96},{"s":"TL","t":5.18,"v":3.32},{"s":"TL","t":5.28,"v":3.62},{"s":"TL","t":5.35,"v":3.8},{"s":"TL","t":5.44,"v":3.8},{"s":"TL","t":5.51,"v":3.71},{"s":"TL","t":5.66,"v":3.71},{"s":"TL","t":5.8,"v":3.53},{"s":"TL","t":5.84,"v":3.32},{"s":"TL","t":5.98,"v":3.32},{"s":"TL","t":6.02,"v":3.41},{"s":"TL","t":6.11,"v":3.38},{"s":"TL","t":6.24,"v":3.32},{"s":"TL","t":6.37,"v":3.2},{"s":"TL","t":6.51,"v":3.02},{"s":"TL","t":6.6,"v":3.02},{"s":"TL","t":6.68,"v":3.17},{"s":"TL","t":6.77,"v":3.41},{"s":"TL","t":6.86,"v":3.41},{"s":"TL","t":6.95,"v":3.32},{"s":"TL","t":7.08,"v":3.14},{"s":"TL","t":7.22,"v":2.84},{"s":"TL","t":7.35,"v":2.54},{"s":"TL","t":7.41,"v":2.25},{"s":"TL","t":7.47,"v":1.12},{"s":"TL","t":7.53,"v":1.21},{"s":"TL","t":7.6,"v":1.15},{"s":"TL","t":7.66,"v":0.91},{"s":"TL","t":7.77,"v":0.8},{"s":"TL","t":7.86,"v":0.85},{"s":"TL","t":7.97,"v":1.15},{"s":"TL","t":8.08,"v":1.69},{"s":"TL","t":8.15,"v":2.06},{"s":"TL","t":8.24,"v":2.12},{"s":"TL","t":8.31,"v":2.45},{"s":"TL","t":8.41,"v":2.72},{"s":"TL","t":8.5,"v":2.69},{"s":"TL","t":8.61,"v":2.48},{"s":"TL","t":8.68,"v":2.06},{"s":"TL","t":8.77,"v":1.57},{"s":"TL","t":8.9,"v":1.15},{"s":"TL","t":9.02,"v":1.02},{"s":"TL","t":9.12,"v":1.15},{"s":"TL","t":9.23,"v":1.39},{"s":"TL","t":9.32,"v":1.69},{"s":"TL","t":9.39,"v":1.88},{"s":"TL","t":9.48,"v":1.97},{"s":"TL","t":9.58,"v":1.99},{"s":"TL","t":9.67,"v":2.12},{"s":"TL","t":9.76,"v":2.03},{"s":"TL","t":9.85,"v":2.06},{"s":"TL","t":9.92,"v":2.12},{"s":"TL","t":10.01,"v":2.03},{"s":"TL","t":10.1,"v":2.12},{"s":"TL","t":10.19,"v":2.66},{"s":"TL","t":10.27,"v":3.11},{"s":"TL","t":10.38,"v":3.32},{"s":"TL","t":10.47,"v":3.41},{"s":"TL","t":10.59,"v":3.5},{"s":"TL","t":10.72,"v":3.5},{"s":"TL","t":10.81,"v":3.59},{"s":"TL","t":10.9,"v":3.62},{"s":"TL","t":10.98,"v":3.8},{"s":"TL","t":11.07,"v":4.0},{"s":"TL","t":11.16,"v":3.83},{"s":"TL","t":11.25,"v":3.59},{"s":"TL","t":11.34,"v":3.59},{"s":"TL","t":11.43,"v":3.5},{"s":"TL","t":11.52,"v":3.59},{"s":"TL","t":11.6,"v":3.71},{"s":"TL","t":11.83,"v":3.71},{"s":"TL","t":11.91,"v":3.5},{"s":"TL","t":12.0,"v":3.38},{"s":"TL","t":12.09,"v":3.11},{"s":"TL","t":12.18,"v":3.11},{"s":"TL","t":12.27,"v":3.23},{"s":"TL","t":12.4,"v":3.5},{"s":"TL","t":12.58,"v":3.71},{"s":"TL","t":12.67,"v":3.89},{"s":"TL","t":12.93,"v":3.89},{"s":"TL","t":13.02,"v":3.98},{"s":"TL","t":13.11,"v":4.0},{"s":"TL","t":13.24,"v":4.1},{"s":"TL","t":13.42,"v":4.1},{"s":"TL","t":13.51,"v":4.21},{"s":"TL","t":13.6,"v":4.1},{"s":"TL","t":13.69,"v":4.01},{"s":"TL","t":13.78,"v":3.92},{"s":"TL","t":13.86,"v":3.5},{"s":"TL","t":13.95,"v":2.9},{"s":"TL","t":14.07,"v":2.3},{"s":"TL","t":14.18,"v":2.21},{"s":"TL","t":14.31,"v":2.21},{"s":"TL","t":14.4,"v":2.12},{"s":"TL","t":14.49,"v":2.21},{"s":"TL","t":14.75,"v":2.21},{"s":"TL","t":14.84,"v":2.3},{"s":"TL","t":14.97,"v":2.3},{"s":"TL","t":15.06,"v":2.4},{"s":"TL","t":15.68,"v":2.4},{"s":"TL","t":15.82,"v":2.21},{"s":"TL","t":16.04,"v":2.21},{"s":"TL","t":16.17,"v":2.4},{"s":"TL","t":16.26,"v":2.3},{"s":"TL","t":16.35,"v":2.3},{"s":"TL","t":16.44,"v":2.12},{"s":"TL","t":16.52,"v":2.33},{"s":"TL","t":16.61,"v":2.54},{"s":"TL","t":16.7,"v":2.6},{"s":"TL","t":16.79,"v":2.69},{"s":"TL","t":16.91,"v":3.01},{"s":"TL","t":17.01,"v":2.66},{"s":"TL","t":17.15,"v":2.3},{"s":"TL","t":17.28,"v":2.06},{"s":"TL","t":17.41,"v":1.9},{"s":"TL","t":17.5,"v":2.12},{"s":"TL","t":17.63,"v":2.27},{"s":"TL","t":17.72,"v":2.27},{"s":"TL","t":17.81,"v":2.12},{"s":"TL","t":17.94,"v":1.69},{"s":"TL","t":18.03,"v":1.51},{"s":"TL","t":18.09,"v":1.4},{"s":"TL","t":18.16,"v":1.69},{"s":"TL","t":18.24,"v":2.08},{"s":"TL","t":18.34,"v":2.12},{"s":"TL","t":18.43,"v":2.21},{"s":"TL","t":18.56,"v":2.3},{"s":"TL","t":18.65,"v":2.21},{"s":"TL","t":18.83,"v":2.09},{"s":"TL","t":19.01,"v":2.03},{"s":"TL","t":19.14,"v":1.99},{"s":"TL","t":19.32,"v":1.88},{"s":"TL","t":19.49,"v":1.72},{"s":"TL","t":19.58,"v":1.69},{"s":"TL","t":19.76,"v":1.6},{"s":"TL","t":19.85,"v":1.39},{"s":"TL","t":19.94,"v":0.55},{"s":"TL","t":20.01,"v":-0.11},{"s":"TL","t":20.07,"v":-0.48},{"s":"TL","t":20.16,"v":-0.78},{"s":"TL","t":20.25,"v":-0.54},{"s":"TL","t":20.31,"v":0.19},{"s":"TL","t":20.38,"v":0.79},{"s":"TL","t":20.49,"v":0.82},{"s":"TL","t":20.56,"v":0.43},{"s":"TL","t":20.65,"v":-0.42},{"s":"TL","t":20.74,"v":-0.78},{"s":"TL","t":20.82,"v":-0.99},{"s":"TL","t":20.91,"v":-0.78},{"s":"TL","t":21.0,"v":-0.51},{"s":"TL","t":21.09,"v":-0.6},{"s":"TL","t":21.18,"v":-0.66},{"s":"TL","t":21.25,"v":-0.51},{"s":"TL","t":21.34,"v":-1.08},{"s":"TL","t":21.44,"v":-1.44},{"s":"TL","t":21.52,"v":-1.47},{"s":"TL","t":21.58,"v":-1.32},{"s":"TL","t":21.67,"v":-1.2},{"s":"TL","t":21.76,"v":-1.29},{"s":"TL","t":21.84,"v":-1.17},{"s":"TL","t":21.93,"v":-1.17},{"s":"TL","t":22.02,"v":-1.08},{"s":"TL","t":22.08,"v":-0.99},{"s":"TL","t":22.15,"v":-1.17},{"s":"TL","t":22.24,"v":-1.26},{"s":"TL","t":22.33,"v":-1.38},{"s":"TL","t":22.42,"v":-1.29},{"s":"TL","t":22.51,"v":-1.38},{"s":"TL","t":22.6,"v":-1.5},{"s":"TL","t":22.69,"v":-1.59},{"s":"TL","t":22.82,"v":-1.59},{"s":"TL","t":22.91,"v":-1.38},{"s":"TL","t":23.0,"v":-0.99},{"s":"TL","t":23.09,"v":-1.17},{"s":"TL","t":23.15,"v":-1.38},{"s":"TL","t":23.22,"v":-1.02},{"s":"TL","t":23.31,"v":-0.84},{"s":"TL","t":23.4,"v":-0.84},{"s":"TL","t":23.48,"v":-0.69},{"s":"TL","t":23.57,"v":-0.72},{"s":"TL","t":23.66,"v":-0.54},{"s":"TL","t":23.75,"v":-0.6},{"s":"TL","t":23.88,"v":-0.45},{"s":"TL","t":23.97,"v":-0.36},{"s":"TL","t":24.06,"v":-0.27},{"s":"TL","t":24.15,"v":-0.2},{"s":"TL","t":24.24,"v":-0.33},{"s":"TL","t":24.37,"v":-0.66},{"s":"TL","t":24.46,"v":-1.08},{"s":"TL","t":24.53,"v":-1.74},{"s":"TL","t":24.57,"v":-2.07},{"s":"TL","t":24.64,"v":-1.8},{"s":"TL","t":24.71,"v":-1.86},{"s":"TL","t":24.77,"v":-1.62},{"s":"TL","t":24.86,"v":-1.59},{"s":"TL","t":24.99,"v":-1.59},{"s":"TL","t":25.08,"v":-1.5},{"s":"TL","t":25.15,"v":-1.47},{"s":"TL","t":25.21,"v":-1.59},{"s":"TL","t":25.3,"v":-1.38},{"s":"TL","t":25.36,"v":-1.32},{"s":"TL","t":25.43,"v":-1.08},{"s":"TL","t":25.51,"v":-0.9},{"s":"TL","t":25.57,"v":-1.14},{"s":"TL","t":25.66,"v":-1.02},{"s":"TL","t":25.74,"v":-0.84},{"s":"TL","t":25.82,"v":-0.6},{"s":"TL","t":25.88,"v":-0.72},{"s":"TL","t":25.97,"v":-0.45},{"s":"TL","t":26.06,"v":-0.33},{"s":"TL","t":26.14,"v":-0.27},{"s":"TL","t":26.23,"v":-0.57},{"s":"TL","t":26.32,"v":-0.08},{"s":"TL","t":26.41,"v":-0.24},{"s":"TL","t":26.5,"v":0.22},{"s":"TL","t":26.59,"v":0.22},{"s":"TL","t":26.68,"v":-0.11},{"s":"TL","t":26.75,"v":-0.17},{"s":"TL","t":26.81,"v":0.13},{"s":"TL","t":26.9,"v":0.1},{"s":"TL","t":26.99,"v":-0.08},{"s":"TL","t":27.07,"v":-0.24},{"s":"TL","t":27.16,"v":-0.42},{"s":"TL","t":27.25,"v":-0.66},{"s":"TL","t":27.39,"v":-0.84},{"s":"TL","t":27.52,"v":-0.96},{"s":"TL","t":27.61,"v":-1.2},{"s":"TL","t":27.67,"v":-1.2},{"s":"TL","t":27.74,"v":-0.9},{"s":"TL","t":27.83,"v":-0.84},{"s":"TL","t":27.92,"v":-0.87},{"s":"TL","t":28.01,"v":-0.6},{"s":"TL","t":28.09,"v":-0.39},{"s":"TL","t":28.18,"v":-0.24},{"s":"TL","t":28.27,"v":-0.2},{"s":"TL","t":28.36,"v":-0.39},{"s":"TL","t":28.43,"v":-0.51},{"s":"TL","t":28.58,"v":-0.51},{"s":"TL","t":28.67,"v":-0.45},{"s":"TL","t":28.8,"v":-0.45},{"s":"TL","t":28.89,"v":-0.48},{"s":"TL","t":28.98,"v":-0.42},{"s":"TL","t":29.07,"v":-0.42},{"s":"TL","t":29.16,"v":-0.2},{"s":"TL","t":29.25,"v":-0.36},{"s":"TL","t":29.34,"v":-0.36},{"s":"TL","t":29.42,"v":-0.42},{"s":"TL","t":29.51,"v":-0.48},{"s":"TL","t":29.6,"v":-0.69},{"s":"TL","t":29.67,"v":-0.69},{"s":"TL","t":29.76,"v":-0.48},{"s":"TL","t":29.87,"v":-0.24},{"s":"TL","t":29.96,"v":-0.14},{"s":"TL","t":30.09,"v":-0.14},{"s":"TL","t":30.18,"v":-0.11},{"s":"TL","t":30.32,"v":-0.11},{"s":"TL","t":30.4,"v":-0.05},{"s":"TL","t":30.49,"v":0.02},{"s":"TL","t":30.62,"v":0.02},{"s":"TL","t":30.75,"v":0.01},{"s":"TL","t":30.84,"v":0.07},{"s":"TL","t":30.89,"v":0.19},{"s":"TL","t":30.93,"v":0.1},{"s":"TL","t":31.04,"v":-0.17},{"s":"TL","t":31.11,"v":-0.08},{"s":"TL","t":31.2,"v":0.07},{"s":"TL","t":31.29,"v":0.22},{"s":"TL","t":31.4,"v":0.43},{"s":"TL","t":31.49,"v":0.52},{"s":"TL","t":31.6,"v":0.67},{"s":"TL","t":31.69,"v":0.76},{"s":"TL","t":31.86,"v":0.79},{"s":"TL","t":31.95,"v":0.82},{"s":"TL","t":32.09,"v":0.76},{"s":"TL","t":32.18,"v":0.88},{"s":"TL","t":32.26,"v":1.21},{"s":"TL","t":32.35,"v":1.12},{"s":"TL","t":32.49,"v":1.12},{"s":"TL","t":32.6,"v":1.03},{"s":"TL","t":32.69,"v":1.09},{"s":"TL","t":32.8,"v":1.0},{"s":"TL","t":32.89,"v":1.21},{"s":"TL","t":33.0,"v":1.3}
]
},
"layer": [
 {
  "data": {"values": [{"s": "95% confidence", "t0": 27, "t1": 33, "v0": -1.6, "v1": 0.3}]},
  "mark": {"type": "rect"},
  "encoding": {
   "x": {"field": "t0", "type": "quantitative", "scale": {"domain": [1.5, 34.5], "nice": false, "zero": false}, "axis": {"values": [5, 10, 15, 20, 25, 30], "format": "d", "title": "UTC time [hours]", "titlePadding": 9}},
   "x2": {"field": "t1"},
   "y": {"field": "v0", "type": "quantitative", "scale": {"domain": [-2.47, 5.85], "nice": false, "zero": false}, "axis": {"values": [-2, -1, 0, 1, 2, 3, 4, 5], "labelExpr": "replace(format(datum.value, 'd'), '-', '\u2212')", "title": "Temperature [ °C]", "titlePadding": 14}},
   "y2": {"field": "v1"},
   "color": {"field": "s", "type": "nominal",
     "scale": {"domain": ["TW_1","TW_2","TW_3","TW_4","TW_5","TW_6","TL","sunrise","Base min","Method min","Sander forecast","95% confidence"],
               "range": ["#000000","#000000","#000000","#000000","#000000","#000000","#1f77b4","#ffff00","#ff0000","#800080","#ff0000","#e5cce5"]},
     "legend": {"title": null, "orient": "top-left", "offset": 7, "padding": 4.5, "fillColor": "rgba(255,255,255,0.8)", "strokeColor": "#cccccc", "cornerRadius": 3,
       "symbolSize": 193, "symbolStrokeWidth": 2, "symbolOffset": 6.2, "labelOffset": 19.4, "labelFontSize": 13.9, "labelFont": "DejaVu Sans", "labelColor": "black", "rowPadding": 5.8, "labelLimit": 300,
       "encode": {"symbols": {"update": {
         "shape": {"signal": "datum.value === 'Sander forecast' ? 'M-0.6,-0.6L0.6,0.6M-0.6,0.6L0.6,-0.6' : (datum.value === '95% confidence' ? 'M-2,-0.7H2V0.7H-2Z' : 'M-2.1,0H2.1')"},
         "fill": {"signal": "datum.value === '95% confidence' ? '#e5cce5' : 'transparent'"},
         "stroke": {"signal": "datum.value === '95% confidence' ? 'transparent' : scale('color', datum.value)"},
         "strokeWidth": {"signal": "datum.value === 'Sander forecast' ? 1.4 : 2"},
         "opacity": {"value": 1}
       }}}}
   }
  }
 },
 {
  "data": {"name": "lines"},
  "mark": {"type": "line", "strokeWidth": 1.6, "strokeJoin": "round"},
  "encoding": {
   "x": {"field": "t", "type": "quantitative"},
   "y": {"field": "v", "type": "quantitative"},
   "color": {"field": "s", "type": "nominal"},
   "order": {"field": "t", "type": "quantitative"}
  }
 },
 {
  "data": {"values": [{"s": "sunrise", "t": 7.45}, {"s": "sunrise", "t": 31.45}]},
  "mark": {"type": "rule", "strokeWidth": 1.5},
  "encoding": {"x": {"field": "t", "type": "quantitative"}, "color": {"field": "s", "type": "nominal"}}
 },
 {
  "data": {"values": [{"s": "Base min", "v": -0.49}, {"s": "Method min", "v": -0.63}]},
  "mark": {"type": "rule", "strokeWidth": 1.5},
  "encoding": {"y": {"field": "v", "type": "quantitative"}, "color": {"field": "s", "type": "nominal"}}
 },
 {
  "data": {"values": [{"t": 27}]},
  "mark": {"type": "rule", "strokeWidth": 1.5, "color": "grey"},
  "encoding": {"x": {"field": "t", "type": "quantitative"}}
 },
 {
  "data": {"values": [{"s": "Sander forecast", "t": 27, "v": -0.49}, {"s": "Sander forecast", "t": 28, "v": 0.52}, {"s": "Sander forecast", "t": 29, "v": 0.83}, {"s": "Sander forecast", "t": 30, "v": 1.15}, {"s": "Sander forecast", "t": 31, "v": 1.39}, {"s": "Sander forecast", "t": 32, "v": 0.83}]},
  "mark": {"type": "point", "shape": "M-1,-1L1,1M-1,1L1,-1", "filled": false, "size": 70, "strokeWidth": 1.4, "opacity": 1},
  "encoding": {"x": {"field": "t", "type": "quantitative"}, "y": {"field": "v", "type": "quantitative"}, "color": {"field": "s", "type": "nominal"}}
 }
]
}
